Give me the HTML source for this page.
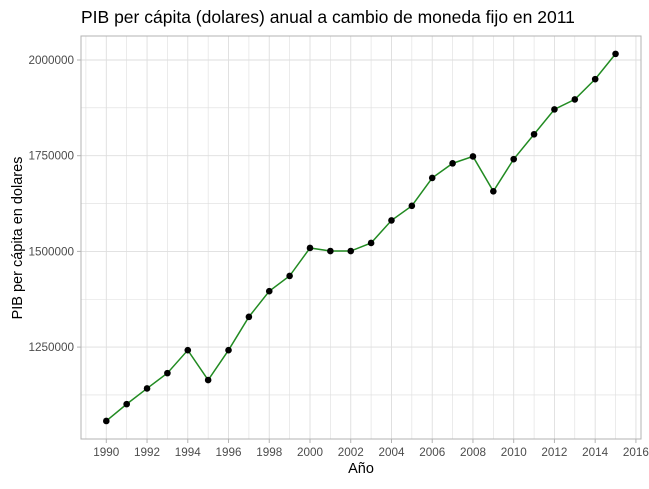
<!DOCTYPE html>
<html><head><meta charset="utf-8"><style>
body{margin:0;background:#fff;font-family:"Liberation Sans",Arial,sans-serif}
</style></head><body>
<svg id="chart" width="649" height="484" xmlns="http://www.w3.org/2000/svg">
<text x="81" y="23" font-size="17.5" fill="#000">PIB per cápita (dolares) anual a cambio de moneda fijo en 2011</text>
<g id="grid"></g>
<g id="axes"></g>
<g id="series"></g>
<rect x="81" y="36" width="560" height="403" fill="none" stroke="#b3b3b3" stroke-width="1"/>
<text x="361" y="473" font-size="14.5" text-anchor="middle">Año</text>
<text transform="translate(22,238) rotate(-90)" font-size="14.5" text-anchor="middle">PIB per cápita en dolares</text>
</svg>
<script>
const years=[1990,1991,1992,1993,1994,1995,1996,1997,1998,1999,2000,2001,2002,2003,2004,2005,2006,2007,2008,2009,2010,2011,2012,2013,2014,2015];
const pib=[1057000,1101000,1142000,1182000,1242000,1164000,1242000,1329000,1396000,1436000,1509000,1501000,1501000,1522000,1581000,1619000,1692000,1730000,1748000,1657000,1741000,1806000,1871000,1897000,1950000,2016000];
const xTicks=[1990,1992,1994,1996,1998,2000,2002,2004,2006,2008,2010,2012,2014,2016];
const yTicks=[1250000,1500000,1750000,2000000];
const yMinor=[1125000,1375000,1625000,1875000];
const NS="http://www.w3.org/2000/svg";
function x(v){return 106.3+(v-1990)*20.37;}
function y(v){return 60+(2000000-v)/250000*95.7;}
function mk(t,a,p){const e=document.createElementNS(NS,t);for(const k in a)e.setAttribute(k,a[k]);p.appendChild(e);return e;}
const g=document.getElementById('grid'),ax=document.getElementById('axes'),s=document.getElementById('series');
for(let yr=1989;yr<=2016;yr++){const l=mk('line',{x1:x(yr),x2:x(yr),y1:36,y2:439,stroke:'#dedede','stroke-width':yr%2?0.6:0.9},g);

}
yMinor.concat(yTicks).forEach((v,i)=>{const l=mk('line',{x1:81,x2:641,y1:y(v),y2:y(v),stroke:'#dedede','stroke-width':i<4?0.6:0.9},g);

});
xTicks.forEach(v=>{mk('line',{x1:x(v),x2:x(v),y1:439,y2:443,stroke:'#b3b3b3'},ax);
const t=mk('text',{x:x(v),y:456,'font-size':11.7,fill:'#4d4d4d','text-anchor':'middle'},ax);t.textContent=v;

});
yTicks.forEach(v=>{mk('line',{x1:77,x2:81,y1:y(v),y2:y(v),stroke:'#b3b3b3'},ax);
const t=mk('text',{x:74,y:y(v)+4,'font-size':11.7,fill:'#4d4d4d','text-anchor':'end'},ax);t.textContent=v;

});
const pl=mk('polyline',{points:years.map((yr,i)=>x(yr)+','+y(pib[i])).join(' '),fill:'none',stroke:'#228b22','stroke-width':1.5},s);


years.forEach((yr,i)=>{const c=mk('circle',{cx:x(yr),cy:y(pib[i]),r:3.3,fill:'#000'},s);

});
</script>
</body></html>
